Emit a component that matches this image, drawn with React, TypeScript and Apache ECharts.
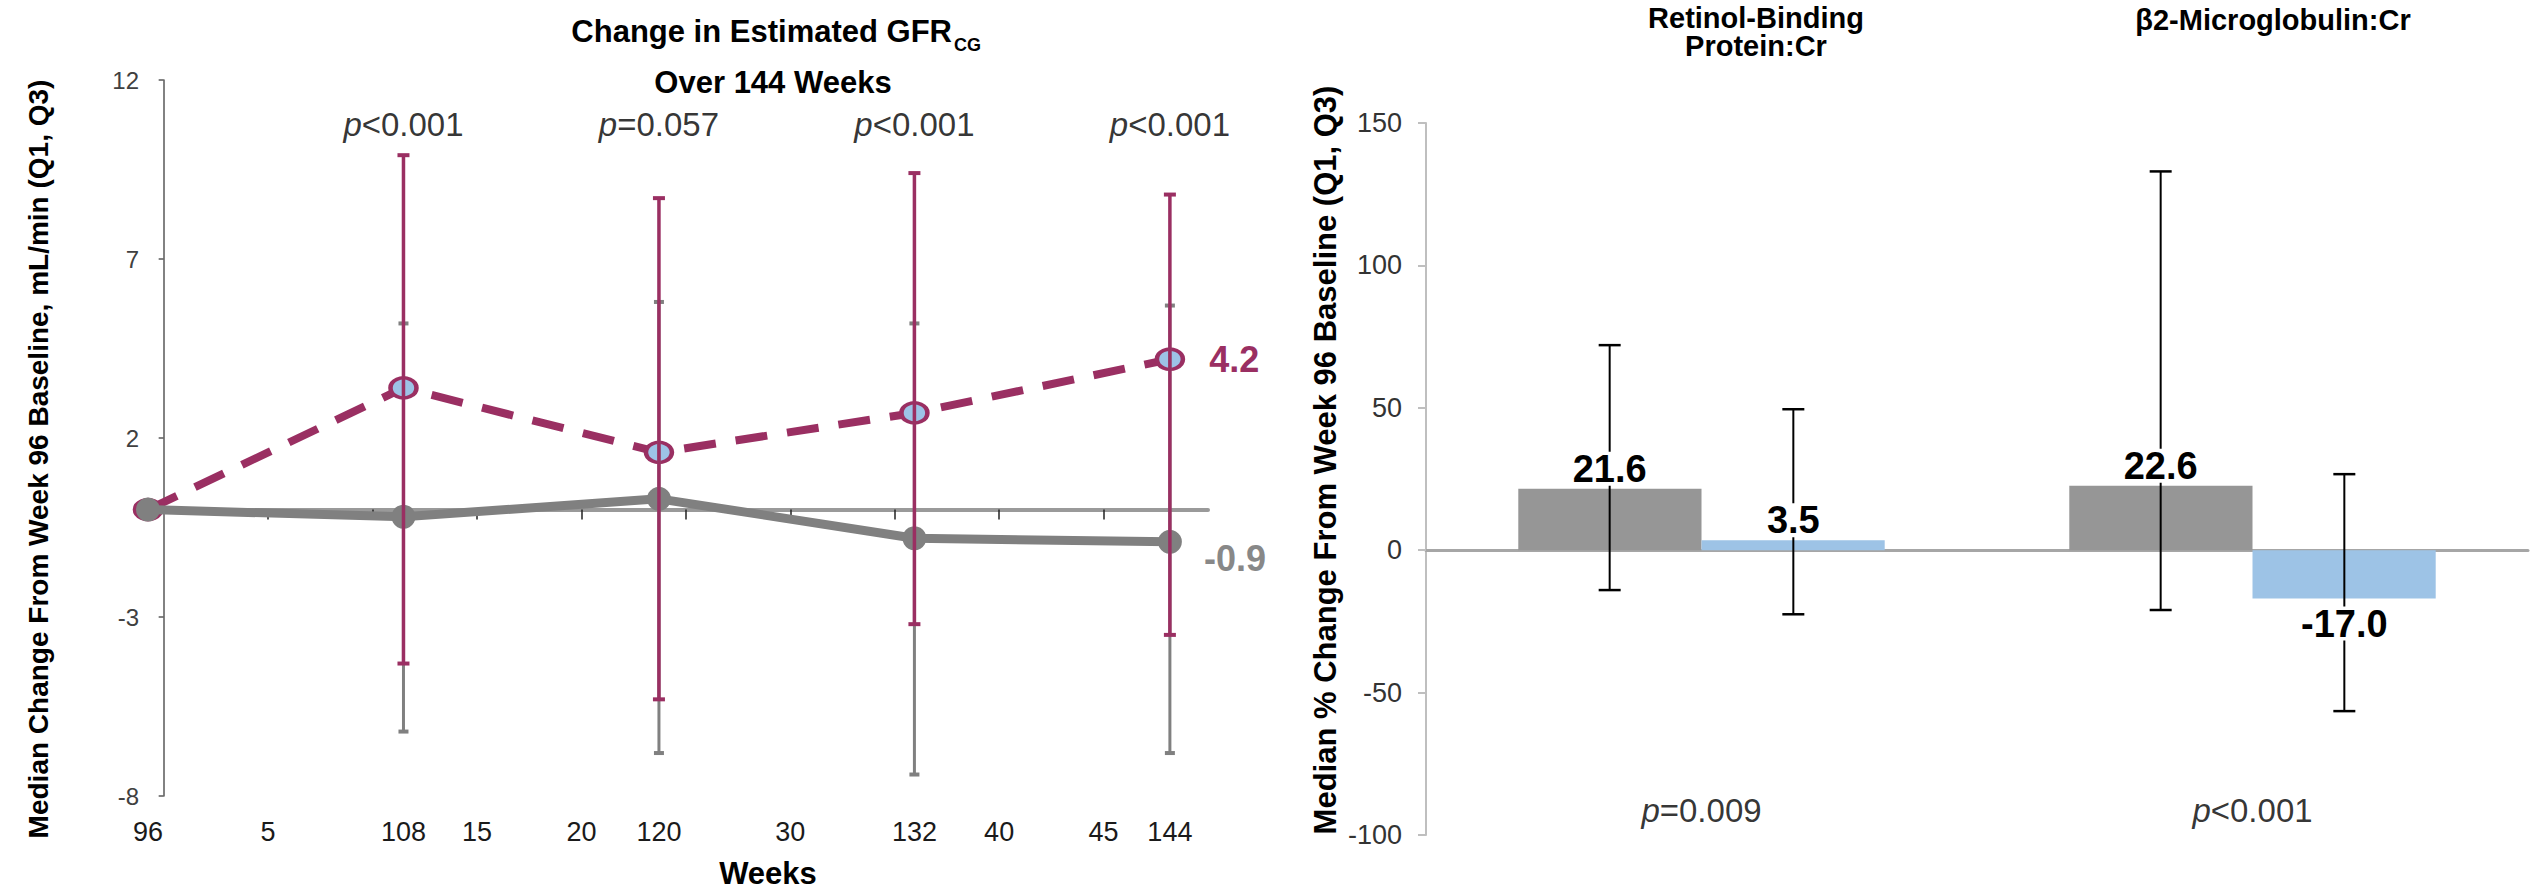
import React, { useEffect, useRef } from "react";
import * as echarts from "echarts";

// ---------- Left panel: change in eGFR (CG) over weeks ----------
const weeks = [96, 108, 120, 132, 144];
const tafMedian = [0, 3.4, 1.6, 2.7, 4.2];
const tafQ1 = [0, -4.3, -5.3, -3.2, -3.5];
const tafQ3 = [0, 9.9, 8.7, 9.4, 8.8];
const tdfMedian = [0, -0.2, 0.3, -0.8, -0.9];
const tdfQ1 = [0, -6.2, -6.8, -7.4, -6.8];
const tdfQ3 = [0, 5.2, 5.8, 5.2, 5.7];
const gfrPWeeks = [108, 120, 132, 144];
const gfrPValues = ["<0.001", "=0.057", "<0.001", "<0.001"];
const gfrYTicks = [-8, -3, 2, 7, 12];
const overlayTicks = [5, 10, 15, 20, 25, 30, 35, 40, 45];
const overlayLabels = [5, 15, 20, 30, 40, 45];

// ---------- Right panel: tubular markers ----------
const markers = ["Retinol-Binding\nProtein:Cr", "β2-Microglobulin:Cr"];
const tdfPct = [21.6, 22.6];
const tdfPctQ1 = [-14, -21];
const tdfPctQ3 = [72, 133];
const tafPct = [3.5, -17.0];
const tafPctQ1 = [-22.5, -56.5];
const tafPctQ3 = [49.5, 26.7];
const markerPValues = ["=0.009", "<0.001"];

const FONT = '"Liberation Sans", Arial, sans-serif';
const PURPLE = "#9A2F62";
const GRAY_LINE = "#808080";
const GRAY_BAR = "#969696";
const BLUE = "#9DC3E6";

function leftErrorBars(color: string, lw: number, capW: number) {
  return (params: any, api: any) => {
    const x = api.value(0);
    const lo = api.value(1);
    const hi = api.value(2);
    const t = api.coord([x, hi]);
    const b = api.coord([x, lo]);
    return {
      type: "group",
      children: [
        { type: "line", shape: { x1: t[0], y1: t[1], x2: b[0], y2: b[1] }, style: { stroke: color, lineWidth: lw } },
        { type: "line", shape: { x1: t[0] - capW / 2, y1: t[1], x2: t[0] + capW / 2, y2: t[1] }, style: { stroke: color, lineWidth: 4 } },
        { type: "line", shape: { x1: b[0] - capW / 2, y1: b[1], x2: b[0] + capW / 2, y2: b[1] }, style: { stroke: color, lineWidth: 4 } },
      ],
    };
  };
}

function barErrorBars(side: number) {
  return (params: any, api: any) => {
    const cat = api.value(0);
    const val = api.value(1);
    const lo = api.value(2);
    const hi = api.value(3);
    const band = api.size([1, 0])[0];
    const cx = api.coord([cat, 0])[0] + (side * band) / 6;
    const yHi = api.coord([cat, hi])[1];
    const yLo = api.coord([cat, lo])[1];
    const yVal = api.coord([cat, val])[1];
    const cap = 22;
    const labelY = val >= 0 ? yVal - 20 : yVal + 25;
    return {
      type: "group",
      children: [
        { type: "line", shape: { x1: cx, y1: yHi, x2: cx, y2: yLo }, style: { stroke: "#000", lineWidth: 2 } },
        { type: "line", shape: { x1: cx - cap / 2, y1: yHi, x2: cx + cap / 2, y2: yHi }, style: { stroke: "#000", lineWidth: 2.5 } },
        { type: "line", shape: { x1: cx - cap / 2, y1: yLo, x2: cx + cap / 2, y2: yLo }, style: { stroke: "#000", lineWidth: 2.5 } },
        {
          type: "text",
          x: cx,
          y: labelY,
          style: {
            text: val.toFixed(1),
            font: `bold 38px ${FONT}`,
            fill: "#000",
            align: "center",
            verticalAlign: "middle",
            backgroundColor: "#fff",
            padding: [0, 3],
            lineHeight: 34,
          },
        },
      ],
    };
  };
}

const pRich = {
  i: { fontStyle: "italic", fontSize: 33, fontFamily: FONT, color: "#000" },
  t: { fontSize: 33, fontFamily: FONT, color: "#000" },
};

function buildOption() {
  const tafData = weeks.map((w, i) =>
    i === weeks.length - 1
      ? {
          value: [w, tafMedian[i]],
          label: {
            show: true,
            position: "right",
            distance: 24,
            formatter: (p: any) => p.value[1].toFixed(1),
            fontFamily: FONT,
            fontWeight: "bold",
            fontSize: 36,
            color: PURPLE,
          },
        }
      : [w, tafMedian[i]]
  );
  const tdfData = weeks.map((w, i) =>
    i === weeks.length - 1
      ? {
          value: [w, tdfMedian[i]],
          label: {
            show: true,
            position: "right",
            distance: 22,
            offset: [0, 17],
            formatter: (p: any) => p.value[1].toFixed(1),
            fontFamily: FONT,
            fontWeight: "bold",
            fontSize: 36,
            color: "#888",
          },
        }
      : [w, tdfMedian[i]]
  );
  const tafErr = weeks.map((w, i) => [w, tafQ1[i], tafQ3[i]]).filter((r) => r[1] !== r[2]);
  const tdfErr = weeks.map((w, i) => [w, tdfQ1[i], tdfQ3[i]]).filter((r) => r[1] !== r[2]);

  return {
    animation: false,
    backgroundColor: "#fff",
    grid: [
      { left: 148, top: 80, width: 1060, height: 716, outerBoundsMode: "none" },
      { left: 1426, top: 123, width: 1102, height: 712, outerBoundsMode: "none" },
    ],
    xAxis: [
      {
        // weeks axis (left)
        type: "value",
        gridIndex: 0,
        min: 96,
        max: 145.79,
        position: "bottom",
        axisLine: { show: false, onZero: false },
        axisTick: { show: false },
        splitLine: { show: false },
        axisLabel: {
          customValues: weeks,
          margin: 22,
          fontFamily: FONT,
          fontSize: 27,
          color: "#1a1a1a",
        },
      },
      {
        // overlay axis drawn on the zero line
        type: "value",
        gridIndex: 0,
        min: -0.75,
        max: 50,
        position: "bottom",
        axisLine: { show: true, onZero: true, onZeroAxisIndex: 0, lineStyle: { color: "#9a9a9a", width: 4 } },
        axisTick: { show: true, customValues: overlayTicks, length: 10, lineStyle: { color: "#222", width: 1.5 } },
        axisLabel: { show: false },
        splitLine: { show: false },
      },
      {
        // overlay axis labels at the bottom
        type: "value",
        gridIndex: 0,
        min: -0.75,
        max: 50,
        position: "bottom",
        axisLine: { show: false, onZero: false },
        axisTick: { show: false },
        splitLine: { show: false },
        axisLabel: {
          customValues: overlayLabels,
          margin: 22,
          fontFamily: FONT,
          fontSize: 27,
          color: "#1a1a1a",
        },
      },
      {
        type: "category",
        gridIndex: 1,
        data: markers,
        axisLine: { show: true, onZero: true, lineStyle: { color: "#A6A6A6", width: 3 } },
        axisTick: { show: false },
        axisLabel: { show: false },
        splitLine: { show: false },
      },
    ],
    yAxis: [
      {
        type: "value",
        gridIndex: 0,
        min: -8,
        max: 12,
        axisLine: { show: true, onZero: true, onZeroAxisIndex: 1, lineStyle: { color: "#595959", width: 1.5 } },
        axisTick: { show: true, customValues: gfrYTicks, length: 5, lineStyle: { color: "#595959", width: 1.5 } },
        axisLabel: { customValues: gfrYTicks, margin: 9, fontFamily: FONT, fontSize: 24, color: "#404040" },
        splitLine: { show: false },
      },
      {
        type: "value",
        gridIndex: 1,
        min: -100,
        max: 150,
        interval: 50,
        axisLine: { show: true, onZero: false, lineStyle: { color: "#BFBFBF", width: 2 } },
        axisTick: { show: true, length: 8, lineStyle: { color: "#BFBFBF", width: 2 } },
        axisLabel: { margin: 24, fontFamily: FONT, fontSize: 27, color: "#333" },
        splitLine: { show: false },
      },
    ],
    series: [
      {
        type: "line",
        name: "TAF",
        xAxisIndex: 0,
        yAxisIndex: 0,
        data: tafData,
        z: 2,
        lineStyle: { color: PURPLE, width: 8, type: [32, 20] },
        symbol: "circle",
        symbolSize: [26, 20],
        itemStyle: { color: BLUE, borderColor: PURPLE, borderWidth: 4 },
      },
      {
        type: "line",
        name: "TDF",
        xAxisIndex: 0,
        yAxisIndex: 0,
        data: tdfData,
        z: 3,
        lineStyle: { color: GRAY_LINE, width: 9 },
        symbol: "circle",
        symbolSize: 24,
        itemStyle: { color: GRAY_LINE },
      },
      {
        type: "custom",
        name: "TDF Q1-Q3",
        xAxisIndex: 0,
        yAxisIndex: 0,
        z: 4,
        data: tdfErr,
        encode: { x: 0, y: [1, 2] },
        renderItem: leftErrorBars(GRAY_LINE, 3, 10),
      },
      {
        type: "custom",
        name: "TAF Q1-Q3",
        xAxisIndex: 0,
        yAxisIndex: 0,
        z: 5,
        data: tafErr,
        encode: { x: 0, y: [1, 2] },
        renderItem: leftErrorBars(PURPLE, 3.5, 12),
      },
      {
        type: "scatter",
        xAxisIndex: 0,
        yAxisIndex: 0,
        z: 6,
        symbolSize: 1,
        itemStyle: { color: "rgba(0,0,0,0)" },
        data: gfrPWeeks.map((w) => [w, 10.75]),
        label: {
          show: true,
          position: "inside",
          formatter: (p: any) => `{i|p}{t|${gfrPValues[p.dataIndex]}}`,
          rich: pRich,
        },
      },
      {
        type: "bar",
        name: "TDF",
        xAxisIndex: 3,
        yAxisIndex: 1,
        data: tdfPct,
        z: 2,
        barGap: "0%",
        barCategoryGap: "33.5%",
        itemStyle: { color: GRAY_BAR },
      },
      {
        type: "bar",
        name: "TAF",
        xAxisIndex: 3,
        yAxisIndex: 1,
        data: tafPct,
        z: 2,
        barGap: "0%",
        barCategoryGap: "33.5%",
        itemStyle: { color: BLUE },
      },
      {
        type: "custom",
        xAxisIndex: 3,
        yAxisIndex: 1,
        z: 3,
        data: markers.map((_, i) => [i, tdfPct[i], tdfPctQ1[i], tdfPctQ3[i]]),
        encode: { x: 0, y: [1, 2, 3] },
        renderItem: barErrorBars(-1),
      },
      {
        type: "custom",
        xAxisIndex: 3,
        yAxisIndex: 1,
        z: 3,
        data: markers.map((_, i) => [i, tafPct[i], tafPctQ1[i], tafPctQ3[i]]),
        encode: { x: 0, y: [1, 2, 3] },
        renderItem: barErrorBars(1),
      },
      {
        type: "scatter",
        xAxisIndex: 3,
        yAxisIndex: 1,
        z: 6,
        symbolSize: 1,
        itemStyle: { color: "rgba(0,0,0,0)" },
        data: markers.map((_, i) => [i, -91.3]),
        label: {
          show: true,
          position: "inside",
          formatter: (p: any) => `{i|p}{t|${markerPValues[p.dataIndex]}}`,
          rich: pRich,
        },
      },
    ],
    graphic: [
      {
        type: "text",
        x: 952,
        y: 31,
        style: { text: "Change in Estimated GFR", font: `bold 31px ${FONT}`, fill: "#000", align: "right", verticalAlign: "middle" },
      },
      {
        type: "text",
        x: 954,
        y: 45,
        style: { text: "CG", font: `bold 18px ${FONT}`, fill: "#000", align: "left", verticalAlign: "middle" },
      },
      {
        type: "text",
        x: 773,
        y: 82,
        style: { text: "Over 144 Weeks", font: `bold 31px ${FONT}`, fill: "#000", align: "center", verticalAlign: "middle" },
      },
      {
        type: "text",
        x: 768,
        y: 873,
        style: { text: "Weeks", font: `bold 31px ${FONT}`, fill: "#000", align: "center", verticalAlign: "middle" },
      },
      {
        type: "text",
        x: 38,
        y: 459,
        rotation: Math.PI / 2,
        style: {
          text: "Median Change From Week 96 Baseline, mL/min (Q1, Q3)",
          font: `bold 28px ${FONT}`,
          fill: "#000",
          align: "center",
          verticalAlign: "middle",
        },
      },
      {
        type: "text",
        x: 1325,
        y: 460,
        rotation: Math.PI / 2,
        style: {
          text: "Median % Change From Week 96 Baseline (Q1, Q3)",
          font: `bold 31px ${FONT}`,
          fill: "#000",
          align: "center",
          verticalAlign: "middle",
        },
      },
      {
        type: "text",
        x: 1756,
        y: 32,
        style: { text: markers[0], font: `bold 29px ${FONT}`, lineHeight: 28, fill: "#000", align: "center", verticalAlign: "middle" },
      },
      {
        type: "text",
        x: 2273,
        y: 20,
        style: { text: markers[1], font: `bold 29px ${FONT}`, fill: "#000", align: "center", verticalAlign: "middle" },
      },
    ],
  };
}

export default function App() {
  const ref = useRef<HTMLDivElement>(null);
  useEffect(() => {
    document.body.style.margin = "0";
    const chart = echarts.init(ref.current as HTMLDivElement, null, { renderer: "svg" });
    chart.setOption(buildOption() as any);
    return () => chart.dispose();
  }, []);
  return <div ref={ref} style={{ width: 2530, height: 891, background: "#fff" }} />;
}
